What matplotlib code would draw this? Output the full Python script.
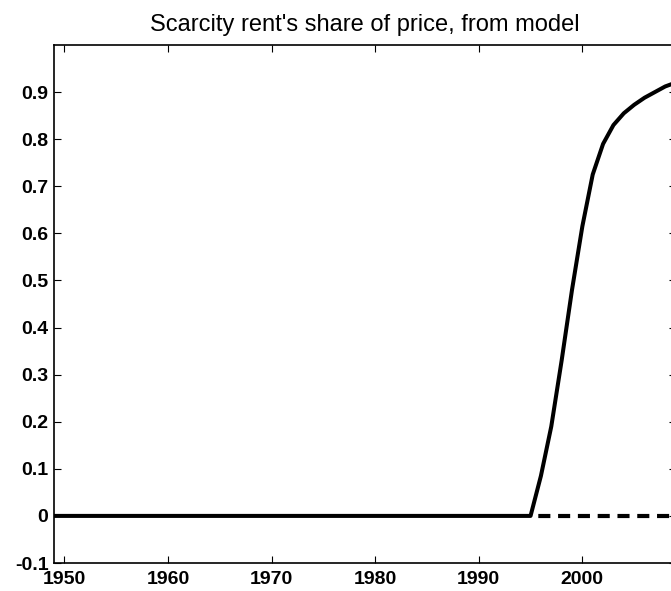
import matplotlib
matplotlib.use("Agg")
import matplotlib.pyplot as plt

title = "Scarcity rent's share of price, from model"
years_flat = list(range(1949, 1996))
share_flat = [0.0] * len(years_flat)
years_rise = [1995, 1996, 1997, 1998, 1999, 2000, 2001, 2002, 2003, 2004, 2005, 2006, 2007, 2008, 2009]
share_rise = [0.0, 0.085, 0.19, 0.33, 0.48, 0.615, 0.725, 0.79, 0.83, 0.855, 0.873, 0.888, 0.90, 0.912, 0.92]
years_dash = [1995, 2009]
share_dash = [0.0, 0.0]
xticks = [1950, 1960, 1970, 1980, 1990, 2000]
yticks = [-0.1, 0, 0.1, 0.2, 0.3, 0.4, 0.5, 0.6, 0.7, 0.8, 0.9]
ytick_labels = ["-0.1", "0", "0.1", "0.2", "0.3", "0.4", "0.5", "0.6", "0.7", "0.8", "0.9"]

plt.rcParams['font.family'] = ['Liberation Sans', 'DejaVu Sans']

W, H = 671, 591
fig = plt.figure(figsize=(W / 100, H / 100), dpi=100)
ax = fig.add_axes([54 / W, (H - 563) / H, (675.6 - 54) / W, (563 - 45) / H])

ax.plot(years_dash, share_dash, color='black', lw=3.0, linestyle=(3.0, (2.9, 1.85)), dash_capstyle='butt')
ax.plot(years_flat + years_rise[1:], share_flat + share_rise[1:], color='black', lw=2.9, solid_joinstyle='round')

ax.set_xlim(1949, 2009)
ax.set_ylim(-0.1, 1.0)
ax.set_xticks(xticks)
ax.set_yticks(yticks)
ax.set_yticklabels(ytick_labels)
ax.tick_params(direction='in', length=5, width=0.8, top=True, right=True,
               labelsize=14)
ax.tick_params(axis='x', pad=5.5)
ax.tick_params(axis='y', pad=4)
for lab in ax.get_xticklabels() + ax.get_yticklabels():
    lab.set_fontweight('bold')
for s in ax.spines.values():
    s.set_linewidth(1.2)

ax.set_title(title, fontsize=17, pad=10)

fig.savefig("out.png", dpi=100)
